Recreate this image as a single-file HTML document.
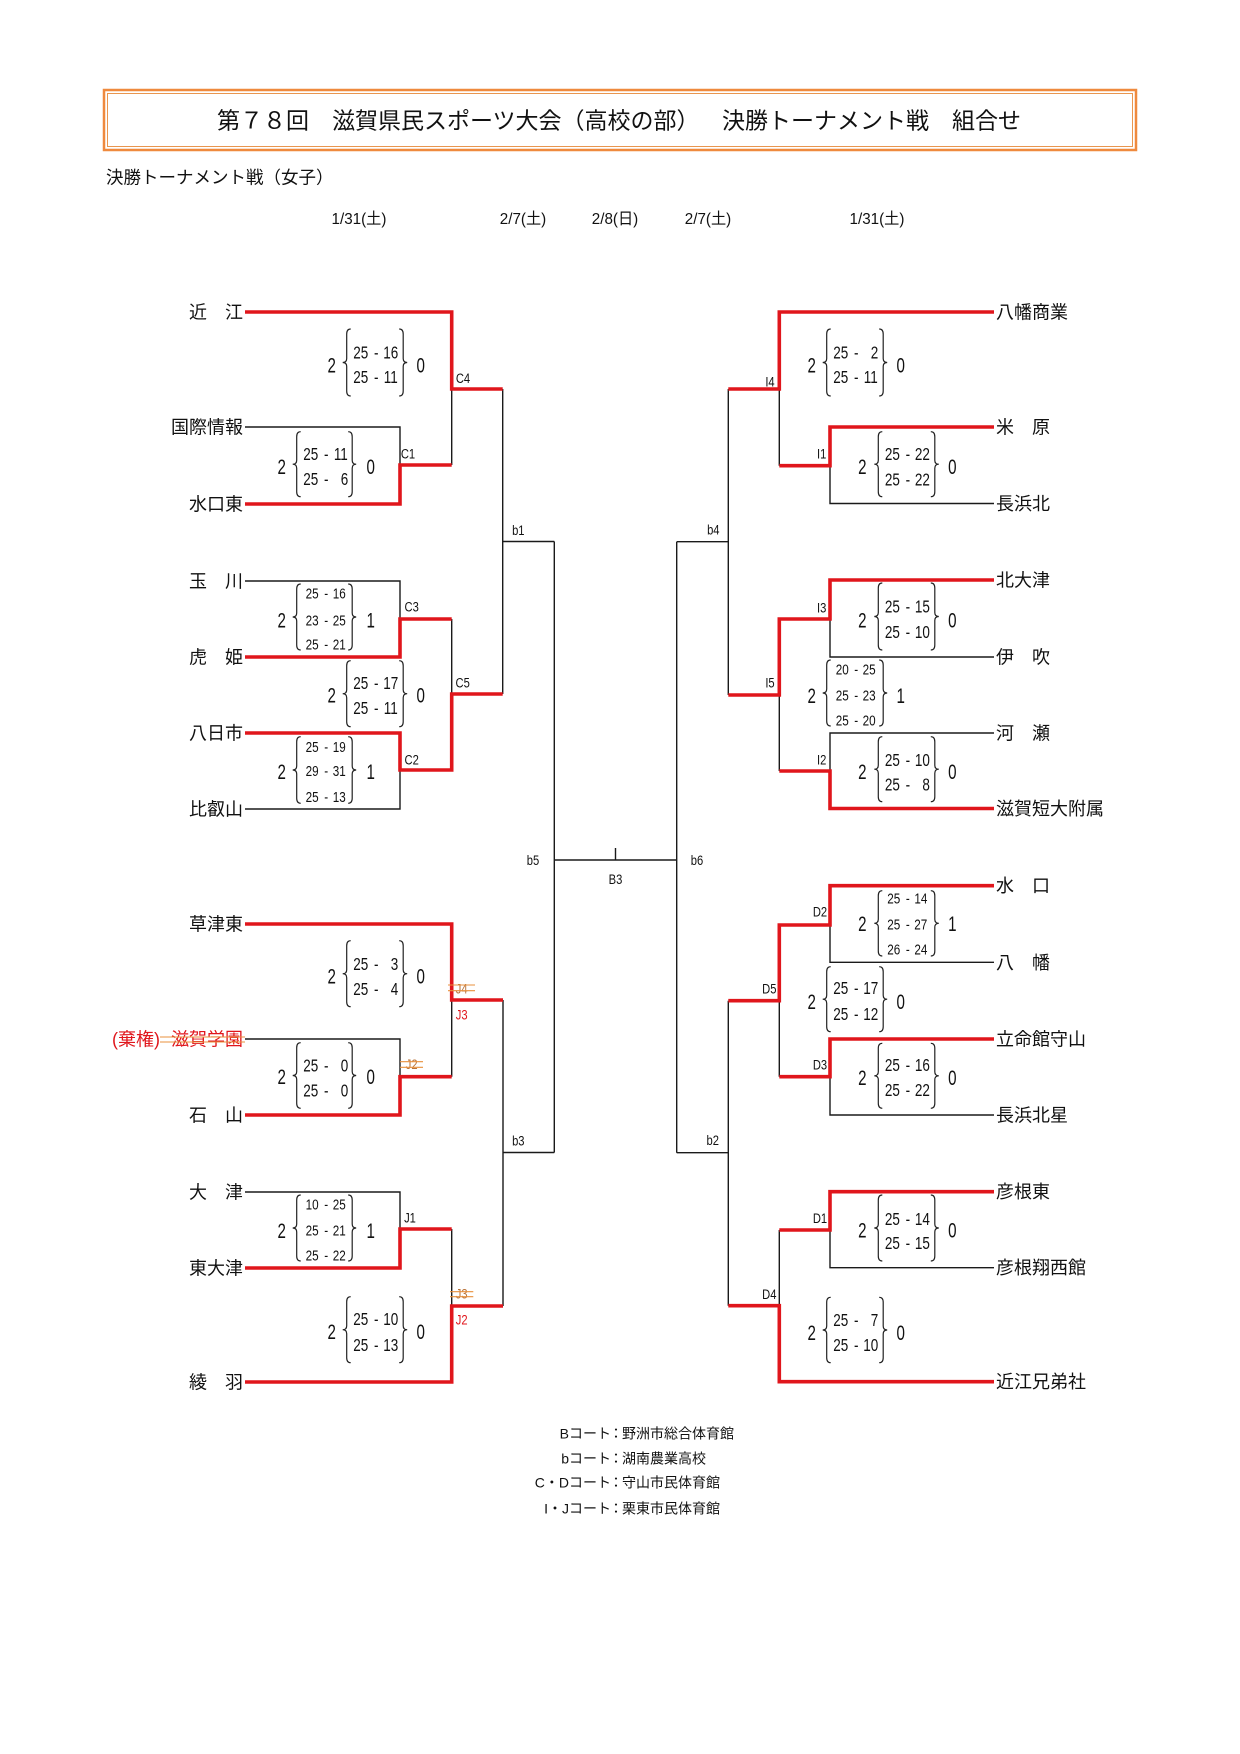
<!DOCTYPE html>
<html><head><meta charset="utf-8"><style>
html,body{margin:0;padding:0;background:#fff;}
svg{display:block;}
text{font-family:"Liberation Sans","Noto Sans CJK JP",sans-serif;fill:#111;}
.t{font-size:18px;}
.n,.b,.l,.d,.m{transform-box:fill-box;transform-origin:center;}
.n{font-size:18px;text-anchor:middle;transform:scaleX(.75);}
.m{font-size:15px;text-anchor:middle;transform:scaleX(.78);}
.b{font-size:21px;text-anchor:middle;transform:scaleX(.72);}
.l{font-size:14px;text-anchor:middle;transform:scaleX(.8);}
.d{font-size:16px;text-anchor:middle;transform:scaleX(.95);}
.k{fill:none;stroke:#1a1a1a;stroke-width:1.4;}
.r{fill:none;stroke:#e0161c;stroke-width:3.6;stroke-linejoin:miter;}
.br{fill:none;stroke:#222;stroke-width:1.2;}
.st{stroke:#e8903c;stroke-width:1.1;}
.red{fill:#e0161c;}
.brn{fill:#b8733a;}
.f{font-size:14px;}
</style></head><body>
<svg width="1240" height="1754" viewBox="0 0 1240 1754" xmlns="http://www.w3.org/2000/svg">
<rect width="1240" height="1754" fill="#fff"/>
<!-- title box -->
<rect x="104" y="90" width="1032" height="60" fill="none" stroke="#ef8a3e" stroke-width="2.5"/>
<rect x="107.5" y="93.5" width="1025" height="53" fill="none" stroke="#e9964f" stroke-width="1"/>
<text x="217" y="128.5" font-size="23">第７８回　滋賀県民スポーツ大会（高校の部）</text>
<text x="722" y="128.5" font-size="23">決勝トーナメント戦　組合せ</text>
<text x="106" y="183.5" font-size="17.5">決勝トーナメント戦（女子）</text>
<!-- dates -->
<text class="d" x="359" y="224">1/31(土)</text>
<text class="d" x="523" y="224">2/7(土)</text>
<text class="d" x="615" y="224">2/8(日)</text>
<text class="d" x="708" y="224">2/7(土)</text>
<text class="d" x="877" y="224">1/31(土)</text>

<!-- black lines -->
<path class="k" d="M245,427H400V465 M451.7,389V465 M502.7,389V694 M502.7,541.5H554.3 M245,581H400V619 M451.7,619V694 M245,809H400V770 M245,1039H400V1076.7 M451.7,1000V1076.7 M245,1192H400V1229 M451.7,1229V1306 M503,1000V1306 M503,1152.5H554.3 M554.3,541.5V1152.5 M554.3,860H676.7 M615.5,848V860"/>
<path class="k" d="M994,503.5H830V465.7 M779.3,389V465.7 M728.3,389V695 M728.3,541.7H676.7 M676.7,541.7V1152.7 M994,657H830V619 M994,733H830V771 M779.3,695V771 M994,962.3H830V925 M994,1115H830V1076.7 M779.3,1000.7V1076.7 M728.3,1000.7V1305.7 M728.3,1152.7H676.7 M994,1267.7H830V1230 M779.3,1230V1305.7"/>
<!-- red lines -->
<path class="r" d="M245,312H451.7V389H502.7"/>
<path class="r" d="M245,504H400V465H451.7"/>
<path class="r" d="M245,657H400V619H451.7"/>
<path class="r" d="M245,733H400V770H451.7V694H502.7"/>
<path class="r" d="M245,924H451.7V1000H503"/>
<path class="r" d="M245,1115H400V1076.7H451.7"/>
<path class="r" d="M245,1268H400V1229H451.7"/>
<path class="r" d="M245,1382H451.7V1306H503"/>
<path class="r" d="M994,312H779.3V389H728.3"/>
<path class="r" d="M994,427H830V465.7H779.3"/>
<path class="r" d="M994,580H830V619H779.3V695H728.3"/>
<path class="r" d="M994,808.5H830V771H779.3"/>
<path class="r" d="M994,885.7H830V925H779.3V1000.7H728.3"/>
<path class="r" d="M994,1039H830V1076.7H779.3"/>
<path class="r" d="M994,1191.7H830V1230H779.3"/>
<path class="r" d="M994,1381.7H779.3V1305.7H728.3"/>

<!-- left team names -->
<g class="t" text-anchor="end">
<text x="243" y="318.5">近　江</text>
<text x="243" y="433.5">国際情報</text>
<text x="243" y="510.5">水口東</text>
<text x="243" y="587.5">玉　川</text>
<text x="243" y="663.5">虎　姫</text>
<text x="243" y="739.5">八日市</text>
<text x="243" y="815.5">比叡山</text>
<text x="243" y="930.5">草津東</text>
<text x="243" y="1045.5" class="red">滋賀学園</text>
<text x="160" y="1045.5" class="red">(棄権)</text>
<text x="243" y="1121.5">石　山</text>
<text x="243" y="1198.5">大　津</text>
<text x="243" y="1274.5">東大津</text>
<text x="243" y="1388.5">綾　羽</text>
</g>
<line class="st" x1="160" y1="1037" x2="245" y2="1037"/>
<line class="st" x1="160" y1="1042" x2="245" y2="1042"/>
<!-- right team names -->
<g class="t">
<text x="996" y="318.5">八幡商業</text>
<text x="996" y="433.5">米　原</text>
<text x="996" y="510">長浜北</text>
<text x="996" y="586.5">北大津</text>
<text x="996" y="663.5">伊　吹</text>
<text x="996" y="739.5">河　瀬</text>
<text x="996" y="815">滋賀短大附属</text>
<text x="996" y="892.2">水　口</text>
<text x="996" y="968.8">八　幡</text>
<text x="996" y="1045.5">立命館守山</text>
<text x="996" y="1121.5">長浜北星</text>
<text x="996" y="1198.2">彦根東</text>
<text x="996" y="1274.2">彦根翔西館</text>
<text x="996" y="1388.2">近江兄弟社</text>
</g>

<!-- match labels -->
<text class="l" x="463" y="383">C4</text>
<text class="l" x="408" y="458.3">C1</text>
<text class="l" x="411.7" y="611.7">C3</text>
<text class="l" x="462.7" y="687.7">C5</text>
<text class="l" x="411.7" y="764.3">C2</text>
<text class="l brn" x="461.7" y="993.3">J4</text>
<line class="st" x1="448" y1="985" x2="475" y2="985"/><line class="st" x1="448" y1="990.7" x2="475" y2="990.7"/>
<text class="l red" x="461.7" y="1019.3">J3</text>
<text class="l brn" x="411.7" y="1069">J2</text>
<line class="st" x1="400" y1="1061.7" x2="423" y2="1061.7"/><line class="st" x1="400" y1="1067.3" x2="423" y2="1067.3"/>
<text class="l" x="410" y="1222.3">J1</text>
<text class="l brn" x="461.7" y="1298.3">J3</text>
<line class="st" x1="450" y1="1291.7" x2="473.3" y2="1291.7"/><line class="st" x1="450" y1="1296.7" x2="473.3" y2="1296.7"/>
<text class="l red" x="461.7" y="1324.3">J2</text>
<text class="l" x="518.3" y="535">b1</text>
<text class="l" x="518.3" y="1145.7">b3</text>
<text class="l" x="533" y="865">b5</text>
<text class="l" x="615.5" y="884">B3</text>
<text class="l" x="713.3" y="534.3">b4</text>
<text class="l" x="697" y="865">b6</text>
<text class="l" x="712.7" y="1145">b2</text>
<text class="l" x="770" y="386.7">I4</text>
<text class="l" x="821.7" y="458.3">I1</text>
<text class="l" x="821.7" y="612.3">I3</text>
<text class="l" x="770" y="687.7">I5</text>
<text class="l" x="821.7" y="764.3">I2</text>
<text class="l" x="820" y="916.7">D2</text>
<text class="l" x="769.3" y="993.3">D5</text>
<text class="l" x="820" y="1069.3">D3</text>
<text class="l" x="820" y="1223">D1</text>
<text class="l" x="769.3" y="1299">D4</text>

<!-- ===== score blocks: left outer (lb=346.7) ===== -->
<!-- C4 -->
<path class="br" d="M350.7,329Q346.7,329 346.7,334V358.5Q346.7,362.5 342.7,362.5Q346.7,362.5 346.7,366.5V391Q346.7,396 350.7,396"/>
<path class="br" d="M399.2,329Q403.2,329 403.2,334V358.5Q403.2,362.5 407.2,362.5Q403.2,362.5 403.2,366.5V391Q403.2,396 399.2,396"/>
<text class="b" x="331.7" y="372.5">2</text><text class="b" x="420.7" y="372.5">0</text>
<text class="n" x="360.8" y="358.5">25</text><text class="n" x="376.3" y="358.5">-</text><text class="n" x="390.8" y="358.5">16</text>
<text class="n" x="360.8" y="383.2">25</text><text class="n" x="376.3" y="383.2">-</text><text class="n" x="390.8" y="383.2">11</text>
<!-- C5 -->
<path class="br" d="M350.7,660.7Q346.7,660.7 346.7,665.7V689.7Q346.7,693.7 342.7,693.7Q346.7,693.7 346.7,697.7V721.7Q346.7,726.7 350.7,726.7"/>
<path class="br" d="M399.2,660.7Q403.2,660.7 403.2,665.7V689.7Q403.2,693.7 407.2,693.7Q403.2,693.7 403.2,697.7V721.7Q403.2,726.7 399.2,726.7"/>
<text class="b" x="331.7" y="702.5">2</text><text class="b" x="420.7" y="702.5">0</text>
<text class="n" x="360.8" y="689.2">25</text><text class="n" x="376.3" y="689.2">-</text><text class="n" x="390.8" y="689.2">17</text>
<text class="n" x="360.8" y="714.2">25</text><text class="n" x="376.3" y="714.2">-</text><text class="n" x="390.8" y="714.2">11</text>
<!-- J4 -->
<path class="br" d="M350.7,940.7Q346.7,940.7 346.7,945.7V969.7Q346.7,973.7 342.7,973.7Q346.7,973.7 346.7,977.7V1001.7Q346.7,1006.7 350.7,1006.7"/>
<path class="br" d="M399.2,940.7Q403.2,940.7 403.2,945.7V969.7Q403.2,973.7 407.2,973.7Q403.2,973.7 403.2,977.7V1001.7Q403.2,1006.7 399.2,1006.7"/>
<text class="b" x="331.7" y="983.5">2</text><text class="b" x="420.7" y="983.5">0</text>
<text class="n" x="360.8" y="969.8">25</text><text class="n" x="376.3" y="969.8">-</text><text class="n" x="394.5" y="969.8">3</text>
<text class="n" x="360.8" y="994.8">25</text><text class="n" x="376.3" y="994.8">-</text><text class="n" x="394.5" y="994.8">4</text>
<!-- J2 bottom -->
<path class="br" d="M350.7,1296.7Q346.7,1296.7 346.7,1301.7V1325.7Q346.7,1329.7 342.7,1329.7Q346.7,1329.7 346.7,1333.7V1357.7Q346.7,1362.7 350.7,1362.7"/>
<path class="br" d="M399.2,1296.7Q403.2,1296.7 403.2,1301.7V1325.7Q403.2,1329.7 407.2,1329.7Q403.2,1329.7 403.2,1333.7V1357.7Q403.2,1362.7 399.2,1362.7"/>
<text class="b" x="331.7" y="1339.2">2</text><text class="b" x="420.7" y="1339.2">0</text>
<text class="n" x="360.8" y="1324.8">25</text><text class="n" x="376.3" y="1324.8">-</text><text class="n" x="390.8" y="1324.8">10</text>
<text class="n" x="360.8" y="1350.8">25</text><text class="n" x="376.3" y="1350.8">-</text><text class="n" x="390.8" y="1350.8">13</text>

<!-- ===== left inner (lb=296.7) ===== -->
<!-- C1 -->
<path class="br" d="M300.7,431.7Q296.7,431.7 296.7,436.7V460.2Q296.7,464.2 292.7,464.2Q296.7,464.2 296.7,468.2V491.7Q296.7,496.7 300.7,496.7"/>
<path class="br" d="M348.2,431.7Q352.2,431.7 352.2,436.7V460.2Q352.2,464.2 356.2,464.2Q352.2,464.2 352.2,468.2V491.7Q352.2,496.7 348.2,496.7"/>
<text class="b" x="281.7" y="474.2">2</text><text class="b" x="370.7" y="474.2">0</text>
<text class="n" x="310.8" y="459.8">25</text><text class="n" x="326.3" y="459.8">-</text><text class="n" x="340.8" y="459.8">11</text>
<text class="n" x="310.8" y="484.8">25</text><text class="n" x="326.3" y="484.8">-</text><text class="n" x="344.5" y="484.8">6</text>
<!-- C3 -->
<path class="br" d="M300.7,584Q296.7,584 296.7,589V613Q296.7,617 292.7,617Q296.7,617 296.7,621V645Q296.7,650 300.7,650"/>
<path class="br" d="M348.2,584Q352.2,584 352.2,589V613Q352.2,617 356.2,617Q352.2,617 352.2,621V645Q352.2,650 348.2,650"/>
<text class="b" x="281.7" y="627.5">2</text><text class="b" x="370.7" y="627.5">1</text>
<text class="m" x="312.2" y="598.7">25</text><text class="m" x="326.2" y="598.7">-</text><text class="m" x="339.2" y="598.7">16</text>
<text class="m" x="312.2" y="625.4">23</text><text class="m" x="326.2" y="625.4">-</text><text class="m" x="339.2" y="625.4">25</text>
<text class="m" x="312.2" y="649.4">25</text><text class="m" x="326.2" y="649.4">-</text><text class="m" x="339.2" y="649.4">21</text>
<!-- C2 -->
<path class="br" d="M300.7,736.7Q296.7,736.7 296.7,741.7V766Q296.7,770 292.7,770Q296.7,770 296.7,774V798.3Q296.7,803.3 300.7,803.3"/>
<path class="br" d="M348.2,736.7Q352.2,736.7 352.2,741.7V766Q352.2,770 356.2,770Q352.2,770 352.2,774V798.3Q352.2,803.3 348.2,803.3"/>
<text class="b" x="281.7" y="779.2">2</text><text class="b" x="370.7" y="779.2">1</text>
<text class="m" x="312.2" y="752.1">25</text><text class="m" x="326.2" y="752.1">-</text><text class="m" x="339.2" y="752.1">19</text>
<text class="m" x="312.2" y="776.1">29</text><text class="m" x="326.2" y="776.1">-</text><text class="m" x="339.2" y="776.1">31</text>
<text class="m" x="312.2" y="802.1">25</text><text class="m" x="326.2" y="802.1">-</text><text class="m" x="339.2" y="802.1">13</text>
<!-- J2 -->
<path class="br" d="M300.7,1042.7Q296.7,1042.7 296.7,1047.7V1071.5Q296.7,1075.5 292.7,1075.5Q296.7,1075.5 296.7,1079.5V1103.3Q296.7,1108.3 300.7,1108.3"/>
<path class="br" d="M348.2,1042.7Q352.2,1042.7 352.2,1047.7V1071.5Q352.2,1075.5 356.2,1075.5Q352.2,1075.5 352.2,1079.5V1103.3Q352.2,1108.3 348.2,1108.3"/>
<text class="b" x="281.7" y="1084.2">2</text><text class="b" x="370.7" y="1084.2">0</text>
<text class="n" x="310.8" y="1071.5">25</text><text class="n" x="326.3" y="1071.5">-</text><text class="n" x="344.5" y="1071.5">0</text>
<text class="n" x="310.8" y="1096.5">25</text><text class="n" x="326.3" y="1096.5">-</text><text class="n" x="344.5" y="1096.5">0</text>
<!-- J1 -->
<path class="br" d="M300.7,1195Q296.7,1195 296.7,1200V1224Q296.7,1228 292.7,1228Q296.7,1228 296.7,1232V1256Q296.7,1261 300.7,1261"/>
<path class="br" d="M348.2,1195Q352.2,1195 352.2,1200V1224Q352.2,1228 356.2,1228Q352.2,1228 352.2,1232V1256Q352.2,1261 348.2,1261"/>
<text class="b" x="281.7" y="1238.2">2</text><text class="b" x="370.7" y="1238.2">1</text>
<text class="m" x="312.2" y="1209.7">10</text><text class="m" x="326.2" y="1209.7">-</text><text class="m" x="339.2" y="1209.7">25</text>
<text class="m" x="312.2" y="1235.4">25</text><text class="m" x="326.2" y="1235.4">-</text><text class="m" x="339.2" y="1235.4">21</text>
<text class="m" x="312.2" y="1260.4">25</text><text class="m" x="326.2" y="1260.4">-</text><text class="m" x="339.2" y="1260.4">22</text>

<!-- ===== right outer (lb=826.7) ===== -->
<!-- I4 -->
<path class="br" d="M830.7,329Q826.7,329 826.7,334V358.5Q826.7,362.5 822.7,362.5Q826.7,362.5 826.7,366.5V391Q826.7,396 830.7,396"/>
<path class="br" d="M879.2,329Q883.2,329 883.2,334V358.5Q883.2,362.5 887.2,362.5Q883.2,362.5 883.2,366.5V391Q883.2,396 879.2,396"/>
<text class="b" x="811.7" y="372.5">2</text><text class="b" x="900.7" y="372.5">0</text>
<text class="n" x="840.8" y="358.5">25</text><text class="n" x="856.3" y="358.5">-</text><text class="n" x="874.5" y="358.5">2</text>
<text class="n" x="840.8" y="383.2">25</text><text class="n" x="856.3" y="383.2">-</text><text class="n" x="870.8" y="383.2">11</text>
<!-- I5 -->
<path class="br" d="M830.7,660Q826.7,660 826.7,665V689Q826.7,693 822.7,693Q826.7,693 826.7,697V721Q826.7,726 830.7,726"/>
<path class="br" d="M879.2,660Q883.2,660 883.2,665V689Q883.2,693 887.2,693Q883.2,693 883.2,697V721Q883.2,726 879.2,726"/>
<text class="b" x="811.7" y="703.2">2</text><text class="b" x="900.7" y="703.2">1</text>
<text class="m" x="842.2" y="674.7">20</text><text class="m" x="856.2" y="674.7">-</text><text class="m" x="869.2" y="674.7">25</text>
<text class="m" x="842.2" y="700.4">25</text><text class="m" x="856.2" y="700.4">-</text><text class="m" x="869.2" y="700.4">23</text>
<text class="m" x="842.2" y="725.4">25</text><text class="m" x="856.2" y="725.4">-</text><text class="m" x="869.2" y="725.4">20</text>
<!-- D5 -->
<path class="br" d="M830.7,966.7Q826.7,966.7 826.7,971.7V995.2Q826.7,999.2 822.7,999.2Q826.7,999.2 826.7,1003.2V1026.7Q826.7,1031.7 830.7,1031.7"/>
<path class="br" d="M879.2,966.7Q883.2,966.7 883.2,971.7V995.2Q883.2,999.2 887.2,999.2Q883.2,999.2 883.2,1003.2V1026.7Q883.2,1031.7 879.2,1031.7"/>
<text class="b" x="811.7" y="1009.2">2</text><text class="b" x="900.7" y="1009.2">0</text>
<text class="n" x="840.8" y="993.8">25</text><text class="n" x="856.3" y="993.8">-</text><text class="n" x="870.8" y="993.8">17</text>
<text class="n" x="840.8" y="1019.8">25</text><text class="n" x="856.3" y="1019.8">-</text><text class="n" x="870.8" y="1019.8">12</text>
<!-- D4 -->
<path class="br" d="M830.7,1297.3Q826.7,1297.3 826.7,1302.3V1326Q826.7,1330 822.7,1330Q826.7,1330 826.7,1334V1357.7Q826.7,1362.7 830.7,1362.7"/>
<path class="br" d="M879.2,1297.3Q883.2,1297.3 883.2,1302.3V1326Q883.2,1330 887.2,1330Q883.2,1330 883.2,1334V1357.7Q883.2,1362.7 879.2,1362.7"/>
<text class="b" x="811.7" y="1340.2">2</text><text class="b" x="900.7" y="1340.2">0</text>
<text class="n" x="840.8" y="1325.8">25</text><text class="n" x="856.3" y="1325.8">-</text><text class="n" x="874.5" y="1325.8">7</text>
<text class="n" x="840.8" y="1350.8">25</text><text class="n" x="856.3" y="1350.8">-</text><text class="n" x="870.8" y="1350.8">10</text>

<!-- ===== right inner (lb=878.3) ===== -->
<!-- I1 -->
<path class="br" d="M882.3,431.7Q878.3,431.7 878.3,436.7V460.2Q878.3,464.2 874.3,464.2Q878.3,464.2 878.3,468.2V491.7Q878.3,496.7 882.3,496.7"/>
<path class="br" d="M930.8,431.7Q934.8,431.7 934.8,436.7V460.2Q934.8,464.2 938.8,464.2Q934.8,464.2 934.8,468.2V491.7Q934.8,496.7 930.8,496.7"/>
<text class="b" x="862.3" y="474.2">2</text><text class="b" x="952.3" y="474.2">0</text>
<text class="n" x="892.4" y="459.8">25</text><text class="n" x="907.9" y="459.8">-</text><text class="n" x="922.4" y="459.8">22</text>
<text class="n" x="892.4" y="485.5">25</text><text class="n" x="907.9" y="485.5">-</text><text class="n" x="922.4" y="485.5">22</text>
<!-- I3 -->
<path class="br" d="M882.3,583Q878.3,583 878.3,588V612.5Q878.3,616.5 874.3,616.5Q878.3,616.5 878.3,620.5V645Q878.3,650 882.3,650"/>
<path class="br" d="M930.8,583Q934.8,583 934.8,588V612.5Q934.8,616.5 938.8,616.5Q934.8,616.5 934.8,620.5V645Q934.8,650 930.8,650"/>
<text class="b" x="862.3" y="627.5">2</text><text class="b" x="952.3" y="627.5">0</text>
<text class="n" x="892.4" y="612.5">25</text><text class="n" x="907.9" y="612.5">-</text><text class="n" x="922.4" y="612.5">15</text>
<text class="n" x="892.4" y="638.2">25</text><text class="n" x="907.9" y="638.2">-</text><text class="n" x="922.4" y="638.2">10</text>
<!-- I2 -->
<path class="br" d="M882.3,736.7Q878.3,736.7 878.3,741.7V765.2Q878.3,769.2 874.3,769.2Q878.3,769.2 878.3,773.2V796.7Q878.3,801.7 882.3,801.7"/>
<path class="br" d="M930.8,736.7Q934.8,736.7 934.8,741.7V765.2Q934.8,769.2 938.8,769.2Q934.8,769.2 934.8,773.2V796.7Q934.8,801.7 930.8,801.7"/>
<text class="b" x="862.3" y="779.2">2</text><text class="b" x="952.3" y="779.2">0</text>
<text class="n" x="892.4" y="765.8">25</text><text class="n" x="907.9" y="765.8">-</text><text class="n" x="922.4" y="765.8">10</text>
<text class="n" x="892.4" y="790.5">25</text><text class="n" x="907.9" y="790.5">-</text><text class="n" x="926.1" y="790.5">8</text>
<!-- D2 -->
<path class="br" d="M882.3,890.7Q878.3,890.7 878.3,895.7V919.3Q878.3,923.3 874.3,923.3Q878.3,923.3 878.3,927.3V951Q878.3,956 882.3,956"/>
<path class="br" d="M930.8,890.7Q934.8,890.7 934.8,895.7V919.3Q934.8,923.3 938.8,923.3Q934.8,923.3 934.8,927.3V951Q934.8,956 930.8,956"/>
<text class="b" x="862.3" y="930.8">2</text><text class="b" x="952.3" y="930.8">1</text>
<text class="m" x="893.8" y="903.7">25</text><text class="m" x="907.8" y="903.7">-</text><text class="m" x="920.8" y="903.7">14</text>
<text class="m" x="893.8" y="929.4">25</text><text class="m" x="907.8" y="929.4">-</text><text class="m" x="920.8" y="929.4">27</text>
<text class="m" x="893.8" y="954.7">26</text><text class="m" x="907.8" y="954.7">-</text><text class="m" x="920.8" y="954.7">24</text>
<!-- D3 -->
<path class="br" d="M882.3,1043.3Q878.3,1043.3 878.3,1048.3V1071.8Q878.3,1075.8 874.3,1075.8Q878.3,1075.8 878.3,1079.8V1103.3Q878.3,1108.3 882.3,1108.3"/>
<path class="br" d="M930.8,1043.3Q934.8,1043.3 934.8,1048.3V1071.8Q934.8,1075.8 938.8,1075.8Q934.8,1075.8 934.8,1079.8V1103.3Q934.8,1108.3 930.8,1108.3"/>
<text class="b" x="862.3" y="1084.8">2</text><text class="b" x="952.3" y="1084.8">0</text>
<text class="n" x="892.4" y="1070.8">25</text><text class="n" x="907.9" y="1070.8">-</text><text class="n" x="922.4" y="1070.8">16</text>
<text class="n" x="892.4" y="1095.8">25</text><text class="n" x="907.9" y="1095.8">-</text><text class="n" x="922.4" y="1095.8">22</text>
<!-- D1 -->
<path class="br" d="M882.3,1195Q878.3,1195 878.3,1200V1224Q878.3,1228 874.3,1228Q878.3,1228 878.3,1232V1256Q878.3,1261 882.3,1261"/>
<path class="br" d="M930.8,1195Q934.8,1195 934.8,1200V1224Q934.8,1228 938.8,1228Q934.8,1228 934.8,1232V1256Q934.8,1261 930.8,1261"/>
<text class="b" x="862.3" y="1237.5">2</text><text class="b" x="952.3" y="1237.5">0</text>
<text class="n" x="892.4" y="1224.8">25</text><text class="n" x="907.9" y="1224.8">-</text><text class="n" x="922.4" y="1224.8">14</text>
<text class="n" x="892.4" y="1249.2">25</text><text class="n" x="907.9" y="1249.2">-</text><text class="n" x="922.4" y="1249.2">15</text>

<!-- footer -->
<g class="f">
<text x="611" y="1438.3" text-anchor="end">Bコート</text><text x="616" y="1438.3" text-anchor="middle">：</text><text x="622" y="1438.3">野洲市総合体育館</text>
<text x="611" y="1463.3" text-anchor="end">bコート</text><text x="616" y="1463.3" text-anchor="middle">：</text><text x="622" y="1463.3">湖南農業高校</text>
<text x="611" y="1487.7" text-anchor="end">C・Dコート</text><text x="616" y="1487.7" text-anchor="middle">：</text><text x="622" y="1487.7">守山市民体育館</text>
<text x="611" y="1513.3" text-anchor="end">I・Jコート</text><text x="616" y="1513.3" text-anchor="middle">：</text><text x="622" y="1513.3">栗東市民体育館</text>
</g>
</svg>
</body></html>
